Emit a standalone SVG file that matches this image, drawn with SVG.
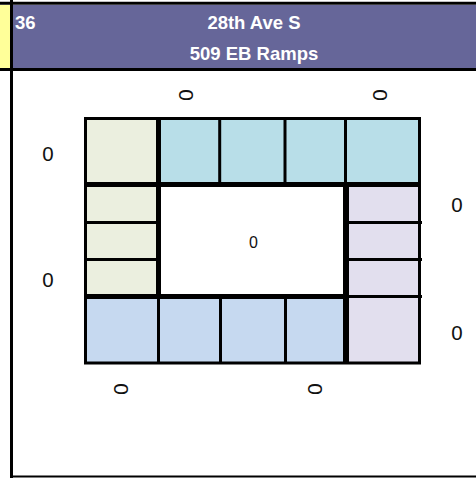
<svg xmlns="http://www.w3.org/2000/svg" width="476" height="478" viewBox="0 0 476 478">
<style>
.hd{font-family:"Liberation Sans",Arial,sans-serif;font-weight:bold;font-size:18.5px;fill:#ffffff}
.lb{font-family:"Liberation Sans",Arial,sans-serif;font-size:20.5px;fill:#111111;text-anchor:middle}
.lr{font-family:"Liberation Sans",Arial,sans-serif;font-size:21px;fill:#111111;text-anchor:middle}
.k{stroke:#000;fill:none}
.g{fill:#EBEFDF}.b{fill:#B8DEE8}.c{fill:#C6D9F0}.p{fill:#E2DFEE}
</style>
<rect x="0" y="0" width="476" height="478" fill="#ffffff"/>
<g id="header">
<rect x="0" y="5" width="11" height="63" fill="#FFFF99"/>
<rect x="11" y="5" width="465" height="63" fill="#666699"/>
<line class="k" x1="0" y1="3.2" x2="476" y2="3.2" stroke-width="3"/>
<line class="k" x1="0" y1="69.5" x2="476" y2="69.5" stroke-width="3"/>
<line class="k" x1="11.5" y1="0" x2="11.5" y2="478" stroke-width="3"/>
<line class="k" x1="11" y1="476.5" x2="476" y2="476.5" stroke-width="2"/>
<text class="hd" x="15" y="29">36</text>
<text class="hd" x="254" y="29" text-anchor="middle">28th Ave S</text>
<text class="hd" x="254" y="60" text-anchor="middle">509 EB Ramps</text>
</g>
<g id="cells">
<rect class="g" x="87" y="120" width="70" height="64"/>
<rect class="g" x="87" y="186" width="70" height="37"/>
<rect class="g" x="87" y="223" width="70" height="37"/>
<rect class="g" x="87" y="260" width="70" height="36"/>
<rect class="b" x="160" y="120" width="260" height="64"/>
<rect class="p" x="346" y="186" width="74" height="176"/>
<rect class="c" x="87" y="298" width="259" height="64"/>
</g>
<g id="connectors">
<rect class="k" x="85.5" y="118.5" width="334" height="244.5" stroke-width="3"/>
<line class="k" x1="158.5" y1="117" x2="158.5" y2="297" stroke-width="5"/>
<line class="k" x1="84" y1="184.5" x2="421" y2="184.5" stroke-width="5"/>
<line class="k" x1="84" y1="296.5" x2="349" y2="296.5" stroke-width="5"/>
<line class="k" x1="346" y1="182" x2="346" y2="364" stroke-width="6"/>
<line class="k" x1="219.7" y1="117" x2="219.7" y2="184" stroke-width="3"/>
<line class="k" x1="285" y1="117" x2="285" y2="184" stroke-width="3"/>
<line class="k" x1="345.5" y1="117" x2="345.5" y2="184" stroke-width="3"/>
<line class="k" x1="84" y1="222.5" x2="160" y2="222.5" stroke-width="3"/>
<line class="k" x1="84" y1="259.5" x2="160" y2="259.5" stroke-width="3"/>
<line class="k" x1="346" y1="222.5" x2="422" y2="222.5" stroke-width="3"/>
<line class="k" x1="346" y1="259.5" x2="422" y2="259.5" stroke-width="3"/>
<line class="k" x1="346" y1="296.5" x2="422" y2="296.5" stroke-width="3"/>
<line class="k" x1="158.5" y1="296" x2="158.5" y2="364" stroke-width="3"/>
<line class="k" x1="220.5" y1="296" x2="220.5" y2="364" stroke-width="3"/>
<line class="k" x1="285.5" y1="296" x2="285.5" y2="364" stroke-width="3"/>
</g>
<g id="labels">
<text class="lb" x="48" y="161">0</text>
<text class="lb" x="48" y="287">0</text>
<text class="lb" x="457" y="212">0</text>
<text class="lb" x="457" y="340">0</text>
<text class="lb" x="253.5" y="248" style="font-size:16px">0</text>
<text class="lr" transform="translate(179,95) rotate(90)">0</text>
<text class="lr" transform="translate(373,95) rotate(90)">0</text>
<text class="lr" transform="translate(114,389) rotate(90)">0</text>
<text class="lr" transform="translate(308,389) rotate(90)">0</text>
</g>
</svg>
